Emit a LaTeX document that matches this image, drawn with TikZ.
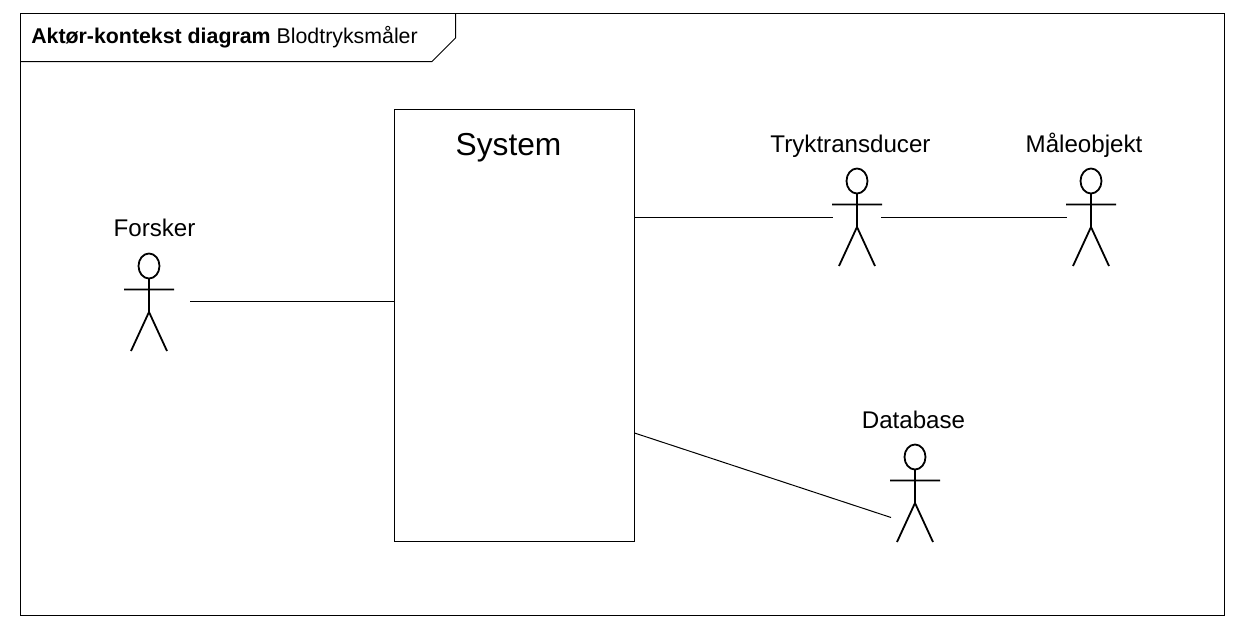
\documentclass[tikz,border=0pt]{standalone}
\usepackage{fontspec}
\setmainfont{Liberation Sans}
\tikzset{
  x=0.75pt,y=-0.75pt,
  frameline/.style={draw=black,line width=0.75pt},
  link/.style={draw=black,line width=0.75pt},
  figure/.style={draw=black,line width=1.35pt},
  actorname/.style={inner sep=0pt,font=\fontsize{18.1}{20}\selectfont,anchor=base},
  sysbox/.style={draw=black,line width=0.75pt,fill=white,minimum width=180pt,minimum height=324pt,inner sep=0pt},
  actorbox/.style={inner sep=0pt,minimum width=37.5pt,minimum height=73pt,anchor=north}
}
% name, centre x, head top y
\newcommand{\stickman}[3]{%
  \node[actorbox] (#1) at (#2,#3) {};
  \draw[figure] (#2,#3+13) ellipse [x radius=10.5,y radius=12.5];
  \draw[figure] (#2,#3+25.5) -- (#2,#3+59)
    (#2-25,#3+36.5) -- (#2+25,#3+36.5)
    (#2-18,#3+98) -- (#2,#3+59) -- (#2+18,#3+98);
}
\begin{document}
\begin{tikzpicture}
\useasboundingbox (0,0) rectangle (1240,628);
\path[frameline] (20.5,13.5) rectangle (1224.5,615.5);
\path[frameline] (20.5,61.5) -- (432,61.5) -- (455.5,38) -- (455.5,13.5);
\node[anchor=base west,inner sep=0pt,font=\fontsize{16}{18}\selectfont] (title) at (31,43) {\textbf{Aktør-kontekst diagram} Blodtryksmåler};
\node[sysbox] (system) at (514.5,325.5) {};
\node[anchor=base,inner sep=0pt,font=\fontsize{23.8}{26}\selectfont] (systemlabel) at (508.5,155) {System};

\stickman{forsker}{149}{253}
\stickman{tryk}{857}{168}
\stickman{maale}{1091}{168}
\stickman{data}{915}{444}
\node[actorname] (l1) at (154.5,236) {Forsker};
\node[actorname] (l2) at (850.5,152) {Tryktransducer};
\node[actorname] (l3) at (1084,152) {Måleobjekt};
\node[actorname] (l4) at (913.5,428) {Database};

\coordinate (forsker-port) at (190,301.5);
\coordinate (tryk-west) at (833,217.5);
\coordinate (tryk-east) at (881,217.5);
\coordinate (maale-west) at (1067,217.5);
\coordinate (data-port) at (891,517.5);
\coordinate (sys-w) at (system.west |- forsker-port);
\coordinate (sys-e1) at (system.east |- tryk-west);
\coordinate (sys-e2) at (634.5,433);
\path[link] (forsker-port) -- (sys-w);
\path[link] (sys-e1) -- (tryk-west);
\path[link] (tryk-east) -- (maale-west);
\path[link] (sys-e2) -- (data-port);
\end{tikzpicture}
\end{document}
